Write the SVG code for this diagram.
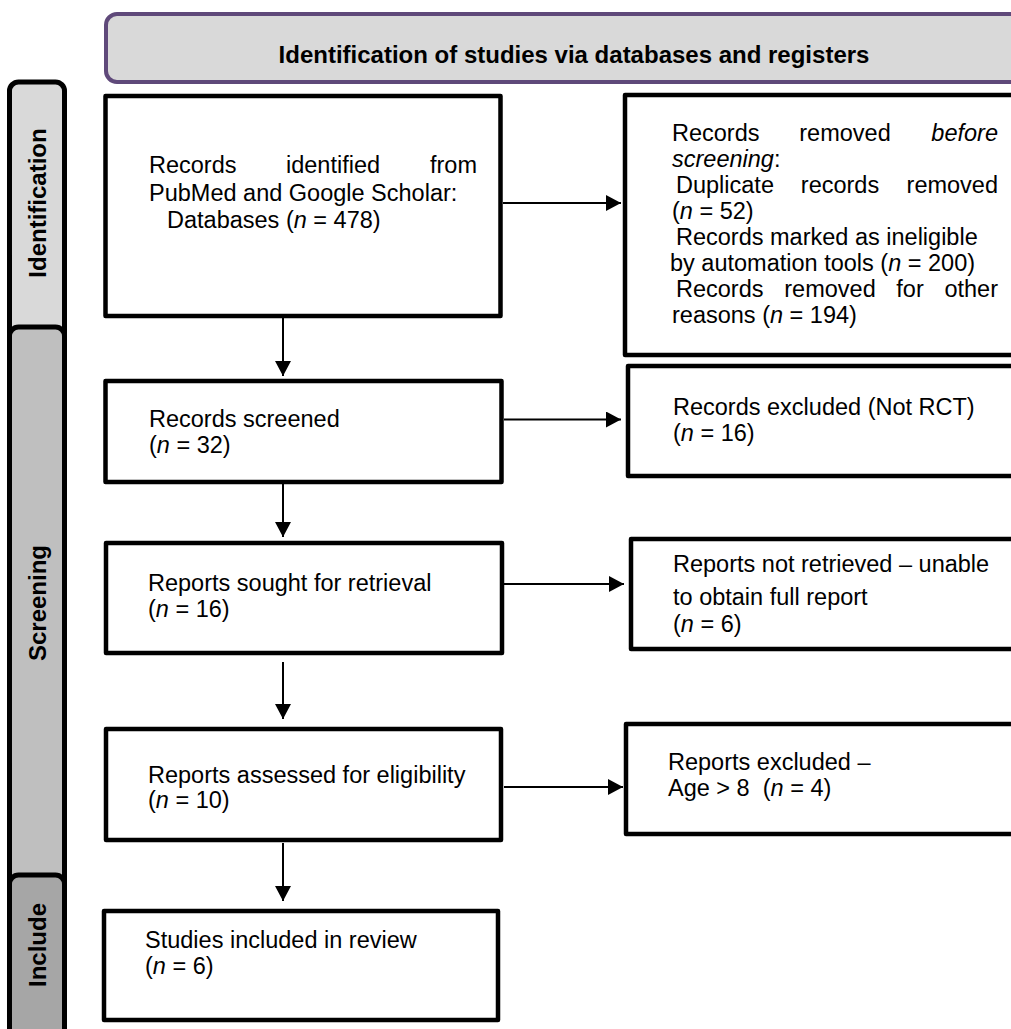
<svg xmlns="http://www.w3.org/2000/svg" width="1011" height="1029" viewBox="0 0 1011 1029">
<style>
  .box{fill:#fff;stroke:#000;stroke-width:4.5;stroke-linejoin:round}
  .bar{stroke:#000;stroke-width:5}
  .t{font-family:"Liberation Sans",Arial,sans-serif;font-size:23.5px;fill:#000}
  .b{font-family:"Liberation Sans",Arial,sans-serif;font-size:24px;font-weight:bold;fill:#000}
  .i{font-style:italic}
  .c{stroke:#000;stroke-width:2;fill:none}
</style>
<defs>
  <marker id="ah" markerUnits="userSpaceOnUse" markerWidth="16" markerHeight="16" refX="15" refY="8" orient="auto">
    <path d="M0,0 L15,8 L0,16 z" fill="#000"/>
  </marker>
</defs>
<rect width="1011" height="1029" fill="#fff"/>

<g id="header">
  <rect x="106" y="14" width="960" height="68" rx="11" fill="#d9d9d9" stroke="#5f497a" stroke-width="4"/>
  <text class="b" x="574" y="63" text-anchor="middle">Identification of studies via databases and registers</text>
</g>

<g id="bar-identification">
  <rect class="bar" x="9.5" y="82" width="55" height="260" rx="9" fill="#d9d9d9"/>
  <text class="b" x="46" y="203" text-anchor="middle" transform="rotate(-90 46 203)">Identification</text>
</g>
<g id="bar-screening">
  <rect class="bar" x="9.5" y="327" width="55" height="578" rx="9" fill="#bfbfbf"/>
  <text class="b" x="46" y="603" text-anchor="middle" transform="rotate(-90 46 603)">Screening</text>
</g>
<g id="bar-include">
  <rect class="bar" x="9.5" y="875" width="55" height="170" rx="9" fill="#a6a6a6"/>
  <text class="b" x="46" y="945" text-anchor="middle" transform="rotate(-90 46 945)">Include</text>
</g>

<g id="connectors">
  <line class="c" x1="283" y1="318" x2="283" y2="376" marker-end="url(#ah)"/>
  <line class="c" x1="283" y1="484" x2="283" y2="537" marker-end="url(#ah)"/>
  <line class="c" x1="283" y1="662" x2="283" y2="719" marker-end="url(#ah)"/>
  <line class="c" x1="283" y1="843" x2="283" y2="901" marker-end="url(#ah)"/>
  <line class="c" x1="503" y1="203" x2="621" y2="203" marker-end="url(#ah)"/>
  <line class="c" x1="504" y1="419.5" x2="621" y2="419.5" marker-end="url(#ah)"/>
  <line class="c" x1="504" y1="584" x2="624" y2="584" marker-end="url(#ah)"/>
  <line class="c" x1="504" y1="787" x2="623" y2="787" marker-end="url(#ah)"/>
</g>

<g id="records-identified">
  <rect class="box" x="105.5" y="96" width="395" height="220"/>
  <text class="t" x="149" y="173">Records</text>
  <text class="t" x="286" y="173">identified</text>
  <text class="t" x="477" y="173" text-anchor="end">from</text>
  <text class="t" x="149" y="200.5">PubMed and Google Scholar:</text>
  <text class="t" x="167" y="228">Databases (<tspan class="i">n</tspan> = 478)</text>
</g>

<g id="records-removed">
  <rect class="box" x="625" y="95" width="420" height="260"/>
  <text class="t" x="672" y="141">Records</text>
  <text class="t" x="845" y="141" text-anchor="middle">removed</text>
  <text class="t i" x="998" y="141" text-anchor="end">before</text>
  <text class="t" x="672" y="167"><tspan class="i">screening</tspan>:</text>
  <text class="t" x="676" y="193">Duplicate</text>
  <text class="t" x="840" y="193" text-anchor="middle">records</text>
  <text class="t" x="998" y="193" text-anchor="end">removed</text>
  <text class="t" x="672" y="219">(<tspan class="i">n</tspan> = 52)</text>
  <text class="t" x="676" y="245">Records marked as ineligible</text>
  <text class="t" x="670" y="271">by automation tools (<tspan class="i">n</tspan> = 200)</text>
  <text class="t" x="676" y="297">Records</text>
  <text class="t" x="830" y="297" text-anchor="middle">removed</text>
  <text class="t" x="910" y="297" text-anchor="middle">for</text>
  <text class="t" x="998" y="297" text-anchor="end">other</text>
  <text class="t" x="672" y="323">reasons (<tspan class="i">n</tspan> = 194)</text>
</g>

<g id="records-screened">
  <rect class="box" x="105.5" y="381" width="396" height="101"/>
  <text class="t" x="149" y="427">Records screened</text>
  <text class="t" x="149" y="453">(<tspan class="i">n</tspan> = 32)</text>
</g>

<g id="records-excluded">
  <rect class="box" x="628" y="366" width="420" height="110"/>
  <text class="t" x="673" y="415">Records excluded (Not RCT)</text>
  <text class="t" x="673" y="441">(<tspan class="i">n</tspan> = 16)</text>
</g>

<g id="reports-sought">
  <rect class="box" x="106" y="543" width="396" height="110"/>
  <text class="t" x="148" y="591">Reports sought for retrieval</text>
  <text class="t" x="148" y="617">(<tspan class="i">n</tspan> = 16)</text>
</g>

<g id="reports-not-retrieved">
  <rect class="box" x="631" y="539" width="420" height="110"/>
  <text class="t" x="673" y="572">Reports not retrieved – unable</text>
  <text class="t" x="673" y="605">to obtain full report</text>
  <text class="t" x="673" y="632">(<tspan class="i">n</tspan> = 6)</text>
</g>

<g id="reports-assessed">
  <rect class="box" x="106" y="729" width="395" height="111"/>
  <text class="t" x="148" y="783">Reports assessed for eligibility</text>
  <text class="t" x="148" y="808">(<tspan class="i">n</tspan> = 10)</text>
</g>

<g id="reports-excluded">
  <rect class="box" x="626" y="724" width="420" height="110"/>
  <text class="t" x="668" y="770">Reports excluded –</text>
  <text class="t" x="668" y="796" xml:space="preserve">Age &gt; 8  (<tspan class="i">n</tspan> = 4)</text>
</g>

<g id="studies-included">
  <rect class="box" x="104" y="911" width="394" height="109"/>
  <text class="t" x="145" y="948">Studies included in review</text>
  <text class="t" x="145" y="974">(<tspan class="i">n</tspan> = 6)</text>
</g>
</svg>
